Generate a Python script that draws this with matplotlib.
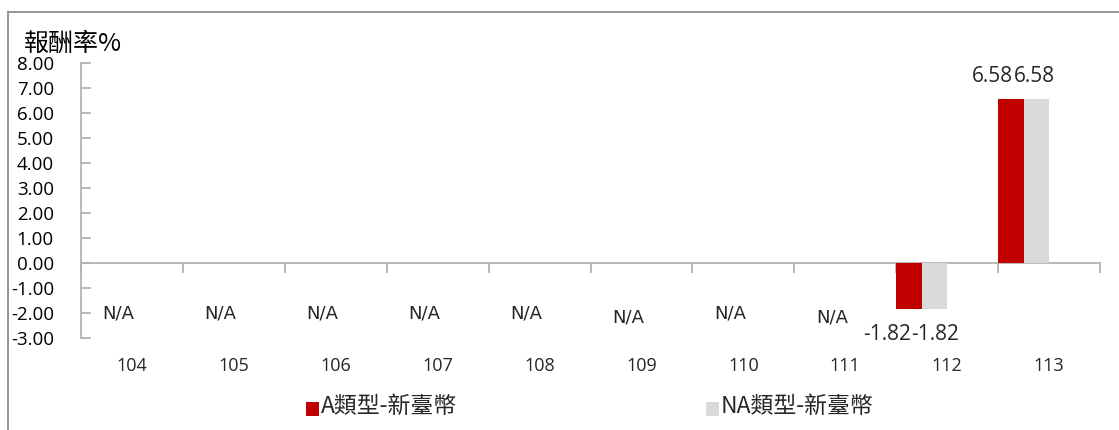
import matplotlib
matplotlib.use("Agg")
import matplotlib.pyplot as plt
from matplotlib.patches import Rectangle
from matplotlib.lines import Line2D
import numpy as np

plt.rcParams['font.family'] = ['Noto Sans CJK TC', 'DejaVu Sans']

categories = ['104', '105', '106', '107', '108', '109', '110', '111', '112', '113']
series_a = [None, None, None, None, None, None, None, None, -1.82, 6.58]
series_na = [None, None, None, None, None, None, None, None, -1.82, 6.58]
series_names = ['A類型-新臺幣', 'NA類型-新臺幣']
yticks = [-3, -2, -1, 0, 1, 2, 3, 4, 5, 6, 7, 8]
na_label = 'N/A'

RED = '#C00000'
GRAY = '#D9D9D9'
AXC = '#B3B3B3'
TXT = '#262626'
NUMF = ['Open Sans', 'DejaVu Sans']

W, H = 1119, 430
fig = plt.figure(figsize=(W / 100, H / 100), dpi=100)

def fx(px):
    return px / W

def fy(py):
    return 1 - py / H

ax_l, ax_r, ax_t, ax_b = 81, 1100, 63, 338
ax = fig.add_axes([fx(ax_l), fy(ax_b), fx(ax_r - ax_l), (ax_b - ax_t) / H])

n = len(categories)
ax.set_xlim(0, n)
ax.set_ylim(-3, 8)

bw = 0.25
for i in range(n):
    a = series_a[i]
    b = series_na[i]
    if a is not None:
        ax.bar(i, a, width=bw, align='edge', color=RED, zorder=3)
    if b is not None:
        ax.bar(i + bw, b, width=bw, align='edge', color=GRAY, zorder=3)
    if a is not None and b is not None:
        va = 'bottom' if a > 0 else 'top'
        ypos = a + (0.45 if a > 0 else -0.6)
        ax.text(i + bw - 0.1, ypos, f'{a:.2f}', ha='right', va=va, fontsize=15,
                color=TXT, family=NUMF)
        ax.text(i + bw - 0.1, ypos, f'{b:.2f}', ha='left', va=va, fontsize=15,
                color=TXT, family=NUMF)
    else:
        dy = -0.2 if i in (5, 7) else 0.0
        ax.text(i + 0.37, -2.0 + dy, na_label, ha='center', va='center', fontsize=13,
                color=TXT, family=['DejaVu Sans'])

# spines
for s in ['top', 'right']:
    ax.spines[s].set_visible(False)
ax.spines['bottom'].set_position(('data', 0))
ax.spines['bottom'].set_color(AXC)
ax.spines['left'].set_color(AXC)
ax.spines['bottom'].set_linewidth(1.3)
ax.spines['left'].set_linewidth(1.3)

ax.set_yticks(yticks)
ax.set_yticklabels([f'{v:.2f}' for v in yticks], fontsize=13.5, color='black', family=NUMF)
ax.tick_params(axis='y', direction='in', length=7, width=1.3, color=AXC, pad=19.5)
ax.set_xticks(np.arange(0, n + 1))
ax.set_xticklabels([])
ax.tick_params(axis='x', direction='out', length=7, width=1.3, color=AXC)

# category labels at the bottom
for i, c in enumerate(categories):
    fig.text(fx(ax_l + (i + 0.5) * (ax_r - ax_l) / n), fy(366), c, ha='center', va='center',
             fontsize=13, color=TXT, family=NUMF)

# title
fig.text(fx(24), fy(44), '報酬率%', ha='left', va='center', fontsize=18, color='black')

# legend
leg = [(306, RED, series_names[0]), (706, GRAY, series_names[1])]
for x0, col, lab in leg:
    fig.patches.append(Rectangle((fx(x0), fy(416)), fx(13), 14 / H, transform=fig.transFigure,
                                 facecolor=col, edgecolor='none'))
    fig.text(fx(x0 + 15), fy(406), lab, ha='left', va='center', fontsize=16.5, color=TXT)

# outer border
fig.lines.append(Line2D([fx(8), fx(8)], [fy(12), 0], transform=fig.transFigure,
                        color='#8C8C8C', linewidth=1.3))
fig.lines.append(Line2D([fx(8), 1], [fy(12), fy(12)], transform=fig.transFigure,
                        color='#8C8C8C', linewidth=1.3))

fig.savefig('out.png', dpi=100)
